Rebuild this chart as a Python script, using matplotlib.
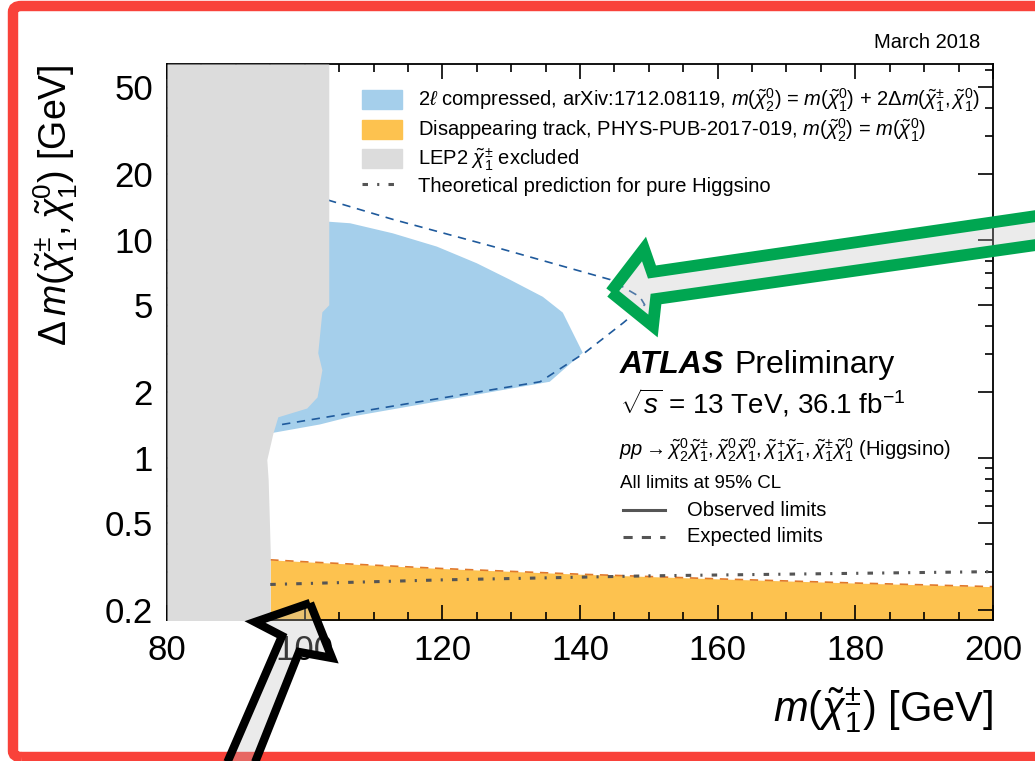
import numpy as np
import matplotlib
matplotlib.use("Agg")
import matplotlib.pyplot as plt
from matplotlib.patches import Polygon, Patch, FancyBboxPatch
from matplotlib.lines import Line2D
from matplotlib.ticker import FixedLocator, NullFormatter

plt.rcParams['font.family'] = ['Liberation Sans', 'DejaVu Sans']
plt.rcParams['mathtext.fontset'] = 'custom'
plt.rcParams['mathtext.rm'] = 'Liberation Sans'
plt.rcParams['mathtext.it'] = 'Liberation Sans:italic'
plt.rcParams['mathtext.bf'] = 'Liberation Sans:bold'

# LEP2 chargino exclusion (right edge of the grey band)
lep_dm = [64, 6.56, 5.03, 4.67, 3.03, 2.53, 1.90, 1.69, 1.54, 1.30, 0.98, 0.79, 0.37, 0.17]
lep_m = [103.5, 103.5, 103.5, 102.5, 101.9, 102.5, 101.8, 100.3, 96.1, 95.4, 94.5, 94.7, 95.0, 95.0]

# 2l compressed, observed excluded region
obs2l_m = [94, 103.4, 106.6, 112.8, 119.2, 125.0, 129.8, 134.6, 137.5, 140.4, 135.6, 106.6, 102.2, 95.4, 94]
obs2l_dm = [12.1, 12.1, 11.9, 10.7, 9.3, 7.8, 6.56, 5.47, 4.63, 3.03, 2.23, 1.54, 1.42, 1.30, 1.30]

# 2l compressed, expected limit
exp2l_m = [103.4, 112.8, 127.4, 144.4, 148.7, 149.4, 146.3, 140.7, 134.2, 96.7]
exp2l_dm = [15.2, 12.4, 9.3, 6.56, 5.47, 5.03, 4.16, 3.03, 2.23, 1.42]

# disappearing track limit
dt_m = [95, 100, 120, 140, 160, 180, 200]
dt_dm = [0.34, 0.333, 0.31, 0.292, 0.278, 0.266, 0.256]

# pure higgsino theory prediction
theory_m = [95, 120, 150, 200]
theory_dm = [0.262, 0.275, 0.287, 0.300]

xticks = [80, 100, 120, 140, 160, 180, 200]
yticks = [0.2, 0.5, 1, 2, 5, 10, 20, 50]
ytick_labels = ['0.2', '0.5', '1', '2', '5', '10', '20', '50']

W, H = 1035, 761
fig = plt.figure(figsize=(W / 100, H / 100), dpi=100)
ax = fig.add_axes([167 / W, 1 - 620 / H, (993 - 167) / W, (620 - 64) / H])

def fx(px):
    return px / W

def fy(py):
    return 1 - py / H

blue = '#a5cfeb'
orange = '#fdc24f'
grey = '#dcdcdc'

ax.fill(obs2l_m, obs2l_dm, color=blue, lw=0, zorder=1)
ax.fill_between(dt_m, 0.1, dt_dm, color=orange, lw=0, zorder=1)
ax.plot(exp2l_m, exp2l_dm, color='#1f5a9c', lw=1.2, dashes=(5, 4), zorder=2)
ax.plot(dt_m, dt_dm, color='#e0782a', lw=1.2, dashes=(5, 4), zorder=2)
ax.fill_betweenx(lep_dm, 80, lep_m, color=grey, lw=0, zorder=3)
ax.plot(theory_m, theory_dm, color='#555555', lw=2.2, dashes=(1.8, 3, 0.7, 3), zorder=4)

ax.set_yscale('log')
ax.set_xlim(80, 200)
ax.set_ylim(0.18, 64)

ax.xaxis.set_major_locator(FixedLocator(xticks))
ax.xaxis.set_minor_locator(FixedLocator(np.arange(80, 201, 5)))
ax.yaxis.set_major_locator(FixedLocator(yticks))
ax.set_yticklabels(ytick_labels)
ax.yaxis.set_minor_locator(FixedLocator([0.3, 0.4, 0.6, 0.7, 0.8, 0.9, 3, 4, 6, 7, 8, 9, 30, 40, 60]))
ax.yaxis.set_minor_formatter(NullFormatter())
ax.tick_params(which='both', direction='in', top=True, right=True, labelsize=25, width=1.2, pad=10)
ax.tick_params(which='major', length=11)
ax.tick_params(which='minor', length=6)
for s in ax.spines.values():
    s.set_linewidth(1.3)

ax.set_xlabel(r'$m(\tilde{\chi}^{\pm}_{1})$ [GeV]', fontsize=30, loc='right')
ax.xaxis.set_label_coords(1.0, -0.118)
ax.set_ylabel(r'$\Delta\, m(\tilde{\chi}^{\pm}_{1}, \tilde{\chi}^{0}_{1})$ [GeV]', fontsize=27, loc='top')
ax.yaxis.set_label_coords(-0.105, 1.0)

handles = [
    Patch(color=blue, label=r'2$\ell$ compressed, arXiv:1712.08119, $m(\tilde{\chi}^{0}_{2})$ = $m(\tilde{\chi}^{0}_{1})$ + 2$\Delta m(\tilde{\chi}^{\pm}_{1}, \tilde{\chi}^{0}_{1})$'),
    Patch(color=orange, label=r'Disappearing track, PHYS-PUB-2017-019, $m(\tilde{\chi}^{0}_{2})$ = $m(\tilde{\chi}^{0}_{1})$'),
    Patch(color=grey, label=r'LEP2 $\tilde{\chi}^{\pm}_{1}$ excluded'),
    Line2D([], [], color='#555555', lw=2.2, dashes=(1.8, 3, 0.7, 3), label='Theoretical prediction for pure Higgsino'),
]
ax.legend(handles=handles, loc='upper left', bbox_to_anchor=(fx(362), fy(87)),
          bbox_transform=fig.transFigure, frameon=False, fontsize=14.5,
          borderpad=0, borderaxespad=0, handlelength=2.0, handleheight=1.05,
          handletextpad=0.8, labelspacing=0.12)

fig.text(fx(980), fy(42), 'March 2018', fontsize=14.5, ha='right', va='center')
fig.text(fx(620), fy(365), 'ATLAS', fontsize=23, fontweight='bold', fontstyle='italic', va='center')
fig.text(fx(734), fy(365), 'Preliminary', fontsize=23, va='center')
fig.text(fx(620), fy(403), r'$\sqrt{s}$ = 13 TeV, 36.1 fb$^{-1}$', fontsize=20, va='center')
fig.text(fx(619), fy(450), r'$pp \rightarrow \tilde{\chi}^{0}_{2}\tilde{\chi}^{\pm}_{1}, \tilde{\chi}^{0}_{2}\tilde{\chi}^{0}_{1}, \tilde{\chi}^{+}_{1}\tilde{\chi}^{-}_{1}, \tilde{\chi}^{\pm}_{1}\tilde{\chi}^{0}_{1}$ (Higgsino)',
         fontsize=14.5, va='center')
fig.text(fx(620), fy(483), 'All limits at 95% CL', fontsize=13.5, va='center')
fig.add_artist(Line2D([fx(623), fx(665)], [fy(510), fy(510)], color='#555555', lw=2.2))
fig.add_artist(Line2D([fx(623), fx(665)], [fy(537), fy(537)], color='#555555', lw=2.2, dashes=(3, 3)))
fig.text(fx(687), fy(510), 'Observed limits', fontsize=14.5, va='center')
fig.text(fx(687), fy(537), 'Expected limits', fontsize=14.5, va='center')

# annotation overlays
red_box = FancyBboxPatch((fx(13), fy(757)), fx(1075) - fx(13), fy(6) - fy(757),
                         boxstyle='round,pad=0,rounding_size=0.008', transform=fig.transFigure,
                         fill=False, edgecolor='#f9423a', lw=7.5, zorder=10)
fig.add_artist(red_box)

green_pts = [(611, 292), (644, 249), (652, 272), (1050, 214), (1050, 243), (656, 299), (653, 326)]
black_pts = [(310, 603), (255, 622), (282, 636), (224, 770), (252, 770), (299, 652), (332, 658)]
for pts, ec, lw in [(green_pts, '#00a651', 8.5), (black_pts, 'black', 6)]:
    xy = [(fx(a), fy(b)) for a, b in pts]
    fig.add_artist(Polygon(xy, closed=True, transform=fig.transFigure, facecolor='#bfbfbf',
                           alpha=0.3, lw=0, zorder=11))
    fig.add_artist(Polygon(xy, closed=True, transform=fig.transFigure, fill=False,
                           edgecolor=ec, lw=lw, joinstyle='miter', zorder=12))

fig.savefig('out.png', dpi=100)
